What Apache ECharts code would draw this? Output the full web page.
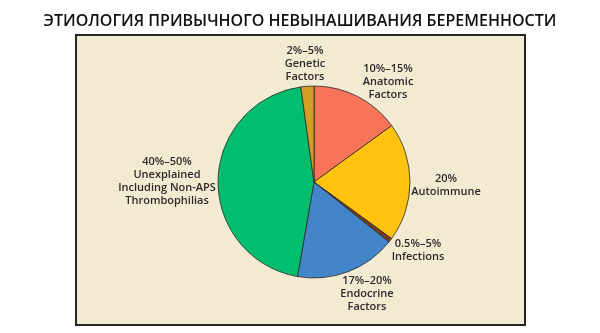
<!DOCTYPE html>
<html><head><meta charset="utf-8">
<script src="https://cdn.jsdelivr.net/npm/echarts@6/dist/echarts.min.js"></script>
<style>html,body{margin:0;padding:0;background:#fff}#c{width:600px;height:333px}</style>
</head><body><div id="c"></div>
<script>
const titleText = 'ЭТИОЛОГИЯ ПРИВЫЧНОГО НЕВЫНАШИВАНИЯ БЕРЕМЕННОСТИ';
const categories = ['Anatomic', 'Autoimmune', 'Infections', 'Endocrine', 'Unexplained', 'Genetic'];
const labels = [
  '10%–15%\nAnatomic\nFactors',
  '20%\nAutoimmune',
  '0.5%–5%\nInfections',
  '17%–20%\nEndocrine\nFactors',
  '40%–50%\nUnexplained\nIncluding Non-APS\nThrombophilias',
  '2%–5%\nGenetic\nFactors'
];
const values = [15, 20, 0.7, 17, 45, 2.2];
const colors = ['#F7735A', '#FFC30F', '#7A3D1C', '#4286C9', '#00BE6E', '#D29F26'];
// label anchor positions (layout, not data)
const labelPos = [[388, 82], [446, 185], [418, 250], [367, 294], [167, 181], [305, 64]];

const chart = echarts.init(document.getElementById('c'), null, {renderer: 'canvas'});
chart.setOption({
  animation: false,
  backgroundColor: '#ffffff',
  title: {
    text: titleText, left: 'center', top: 8,
    textStyle: {fontFamily: 'Open Sans', fontSize: 16, fontWeight: 600, color: '#111'}
  },
  graphic: [{
    type: 'rect', z: -10, left: 75, top: 34,
    shape: {width: 449, height: 290},
    style: {fill: '#F3EAD2', stroke: '#252525', lineWidth: 2}
  }],
  series: [{
    type: 'pie',
    center: [314, 182],
    radius: 96,
    startAngle: 90,
    clockwise: true,
    data: categories.map((c, i) => ({
      name: c, value: values[i],
      itemStyle: {color: colors[i]},
      label: {formatter: labels[i]}
    })),
    itemStyle: {borderColor: '#2a2a2a', borderWidth: 0.8},
    label: {
      show: true, position: 'outside',
      fontFamily: 'Open Sans', fontSize: 11, fontWeight: 600,
      color: '#2b2b2b', lineHeight: 13, align: 'center'
    },
    labelLine: {show: false},
    labelLayout: function (p) {
      const pos = labelPos[p.dataIndex];
      return {x: pos[0], y: pos[1], align: 'center', verticalAlign: 'middle'};
    },
    emphasis: {disabled: true}
  }]
});
</script></body></html>
